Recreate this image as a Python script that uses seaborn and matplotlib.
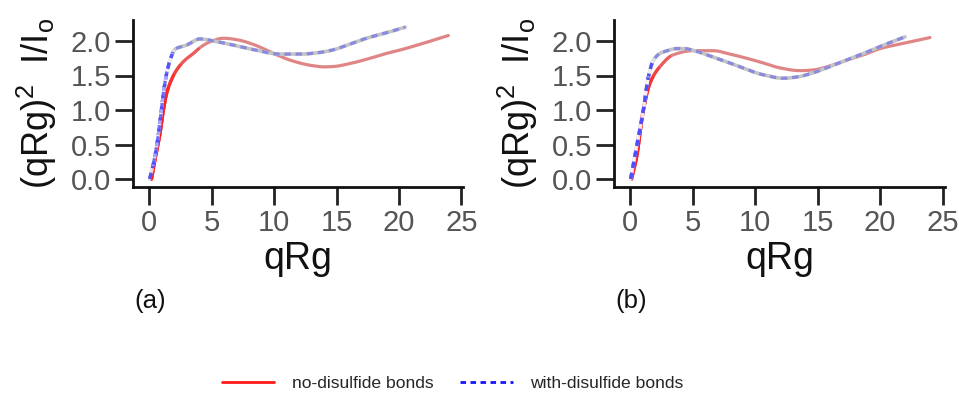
import matplotlib
matplotlib.use("Agg")
import matplotlib.pyplot as plt
from matplotlib.lines import Line2D
import numpy as np
import pandas as pd
import seaborn as sns

sns.set_theme(style="ticks")
plt.rcParams["font.family"] = ["Liberation Sans", "DejaVu Sans"]
plt.rcParams["mathtext.fontset"] = "custom"
plt.rcParams["mathtext.rm"] = "Liberation Sans"
plt.rcParams["mathtext.it"] = "Liberation Sans"

# Kratky curves, (qRg)^2 I/I0 versus qRg
a_no_x = [0.2, 0.48, 0.88, 1.15, 1.41, 1.8, 2.21, 2.8, 3.55, 4.2, 4.9, 5.95, 7.0, 8.5, 9.95, 11.5, 13.0, 14.0, 14.75, 16.0, 17.5, 19.0, 20.1, 22.0, 23.95]
a_no_y = [0.0, 0.28, 0.66, 1.0, 1.24, 1.44, 1.58, 1.71, 1.82, 1.92, 1.99, 2.04, 2.02, 1.94, 1.82, 1.71, 1.645, 1.625, 1.63, 1.67, 1.74, 1.82, 1.87, 1.97, 2.08]
a_ss_x = [0.05, 0.35, 0.61, 0.9, 1.15, 1.4, 1.68, 2.08, 3.0, 4.08, 5.2, 6.75, 8.5, 10.5, 12.1, 13.5, 14.7, 16.0, 17.4, 19.0, 20.5]
a_ss_y = [0.0, 0.22, 0.47, 0.86, 1.24, 1.52, 1.72, 1.88, 1.94, 2.03, 2.0, 1.94, 1.87, 1.81, 1.81, 1.83, 1.87, 1.95, 2.04, 2.12, 2.20]

b_no_x = [0.13, 0.53, 1.07, 1.6, 2.4, 3.46, 5.06, 6.66, 8.0, 9.33, 10.7, 12.0, 13.6, 14.66, 16.0, 17.3, 18.7, 20.0, 22.0, 24.0]
b_no_y = [0.0, 0.32, 1.0, 1.39, 1.63, 1.8, 1.86, 1.86, 1.81, 1.75, 1.68, 1.61, 1.57, 1.58, 1.64, 1.72, 1.80, 1.89, 1.97, 2.05]
b_ss_x = [0.05, 0.53, 1.07, 1.47, 1.87, 2.4, 3.0, 3.73, 4.3, 5.33, 6.6, 8.0, 9.3, 10.66, 12.26, 13.4, 14.66, 16.0, 17.3, 18.7, 20.0, 22.0]
b_ss_y = [0.0, 0.47, 1.0, 1.48, 1.72, 1.82, 1.86, 1.89, 1.89, 1.85, 1.77, 1.68, 1.59, 1.51, 1.46, 1.48, 1.54, 1.63, 1.72, 1.82, 1.92, 2.06]

x_ticks = [0, 5, 10, 15, 20, 25]
y_ticks = [0.0, 0.5, 1.0, 1.5, 2.0]
panel_tags = ["(a)", "(b)"]
legend_labels = ["no-disulfide bonds", "with-disulfide bonds"]

RED = "#ff1a1a"
RED_FADE = "#e08585"
BLUE = "#1414ff"
BLUE_FADE = "#8a8ae0"
GREY = "#c4c4c4"
DASH = (0, (2.0, 1.5))

W, H = 959, 394
fig = plt.figure(figsize=(W / 100, H / 100), dpi=100)

panels = [
    (a_no_x, a_no_y, a_ss_x, a_ss_y, [133, 463], 149),
    (b_no_x, b_no_y, b_ss_x, b_ss_y, [614, 945], 630),
]


def smooth(xs, ys, n=500):
    """Monotone cubic (PCHIP-style) resampling through the given points."""
    xs = np.asarray(xs, float)
    ys = np.asarray(ys, float)
    t = np.linspace(xs[0], xs[-1], n)
    h = np.diff(xs)
    d = np.diff(ys) / h
    m = np.zeros_like(ys)
    m[0], m[-1] = d[0], d[-1]
    for i in range(1, len(xs) - 1):
        if d[i - 1] * d[i] <= 0:
            m[i] = 0.0
        else:
            w1 = 2 * h[i] + h[i - 1]
            w2 = h[i] + 2 * h[i - 1]
            m[i] = (w1 + w2) / (w1 / d[i - 1] + w2 / d[i])
    idx = np.clip(np.searchsorted(xs, t) - 1, 0, len(xs) - 2)
    hh = h[idx]
    s = (t - xs[idx]) / hh
    h00 = 2 * s**3 - 3 * s**2 + 1
    h10 = s**3 - 2 * s**2 + s
    h01 = -2 * s**3 + 3 * s**2
    h11 = s**3 - s**2
    yy = h00 * ys[idx] + h10 * hh * m[idx] + h01 * ys[idx + 1] + h11 * hh * m[idx + 1]
    df = pd.DataFrame({"x": t, "y": yy})
    df["slope"] = np.gradient(df.y, df.x)
    return df


def steep_part(df, thr):
    """Contiguous run of the rising edge whose slope exceeds thr."""
    mask = (df.slope > thr) & (df.x < 4)
    if not mask.any():
        return df.iloc[0:0]
    i0 = mask.idxmax()
    i1 = mask[::-1].idxmax()
    return df.loc[i0:i1]


for k, (nx, ny, sx, sy, (xl, xr), x0px) in enumerate(panels):
    ax = fig.add_axes([xl / W, 1 - 187 / H, (xr - xl) / W, (187 - 20) / H])
    scale = 12.5
    ax.set_xlim((xl - x0px) / scale, (xr - x0px) / scale)
    ax.set_ylim((179 - 187) / 69, (179 - 20) / 69)

    no = smooth(nx, ny)
    ss = smooth(sx, sy)

    # soft curves over the full range
    sns.lineplot(data=no, x="x", y="y", ax=ax, color=RED_FADE, lw=2.3, estimator=None, sort=False)
    sns.lineplot(data=ss, x="x", y="y", ax=ax, color=GREY, lw=2.6, estimator=None, sort=False)
    sns.lineplot(data=ss, x="x", y="y", ax=ax, color=BLUE_FADE, lw=2.3, estimator=None, sort=False,
                 linestyle=DASH)

    # stronger colour on the steep rising edge, built up in layers
    for thr in (0.12, 0.22, 0.35, 0.55, 0.8):
        seg = steep_part(no, thr)
        sns.lineplot(data=seg, x="x", y="y", ax=ax, color=RED, lw=2.3, alpha=0.4,
                     estimator=None, sort=False)
    for thr in (0.25, 0.45, 0.8):
        seg = steep_part(ss, thr)
        sns.lineplot(data=seg, x="x", y="y", ax=ax, color="white", lw=2.3, alpha=0.5,
                     estimator=None, sort=False)
        sns.lineplot(data=seg, x="x", y="y", ax=ax, color=BLUE, lw=2.3, alpha=0.6,
                     estimator=None, sort=False, linestyle=DASH)

    ax.set_xticks(x_ticks)
    ax.set_yticks(y_ticks)
    ax.set_xticklabels([str(v) for v in x_ticks])
    ax.set_yticklabels([f"{v:.1f}" for v in y_ticks])
    for s in ["top", "right"]:
        ax.spines[s].set_visible(False)
    for s in ["left", "bottom"]:
        ax.spines[s].set_linewidth(2.0)
        ax.spines[s].set_color("#111111")
    ax.tick_params(axis="both", length=13, width=2.0, color="#222222",
                   labelsize=21, labelcolor="#555555", pad=3)
    ax.set_xlabel("qRg", fontsize=27, color="#111111", labelpad=3)
    ax.set_ylabel(r"(qRg)$^2$  I/I$_\mathrm{o}$", fontsize=26, color="#111111", labelpad=8)
    fig.text((x0px + 1) / W, 1 - 301 / H, panel_tags[k], ha="center", va="center",
             fontsize=18.5, color="#111111")

handles = [
    Line2D([], [], color=RED, lw=2.0),
    Line2D([], [], color=BLUE, lw=2.0, linestyle=(0, (2.0, 1.6))),
]
fig.legend(handles, legend_labels, loc="center", bbox_to_anchor=(0.472, 1 - 383 / H),
           ncol=2, frameon=False, fontsize=12.6, handlelength=3.0, handletextpad=1.0,
           columnspacing=1.55)

fig.savefig("out.png", dpi=100)
